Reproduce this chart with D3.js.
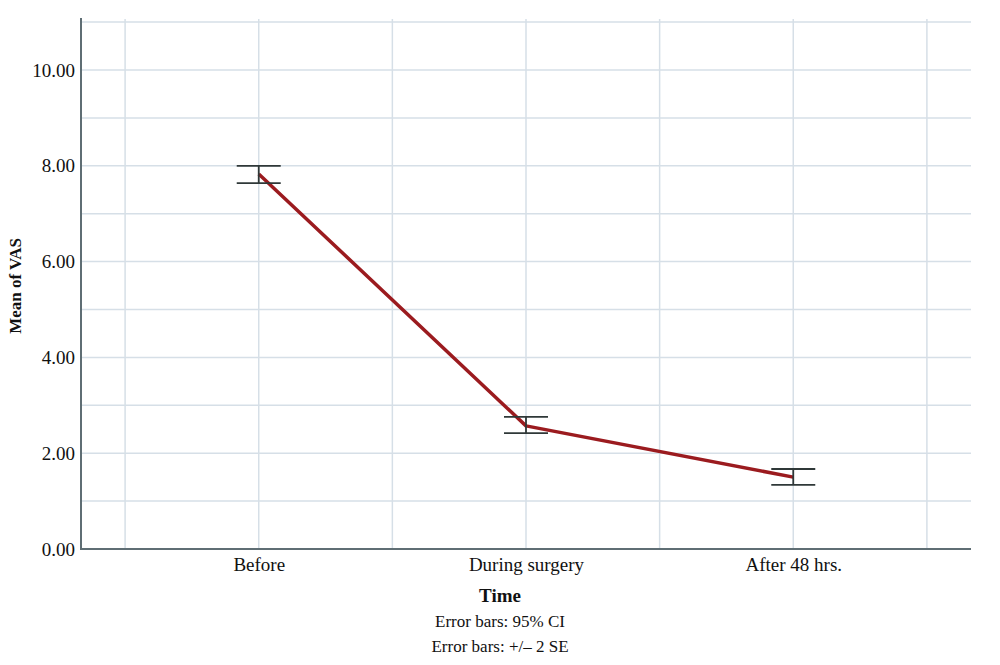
<!DOCTYPE html>
<html><head><meta charset="utf-8">
<script src="https://cdn.jsdelivr.net/npm/d3@7/dist/d3.min.js"></script>
<style>body{margin:0;background:#fff}svg{display:block}text{font-family:"Liberation Serif","Times New Roman",serif;fill:#111}</style>
</head><body><svg id="c" width="1000" height="665"></svg>
<script>
const categories = ["Before", "During surgery", "After 48 hrs."];
const means = [7.83, 2.57, 1.50];
const ciLower = [7.64, 2.42, 1.34];
const ciUpper = [8.00, 2.76, 1.67];
const yTicks = [0, 2, 4, 6, 8, 10];
const yGrid = [1, 2, 3, 4, 5, 6, 7, 8, 9, 10, 11];
const xGrid = [-0.5, 0, 0.5, 1, 1.5, 2, 2.5];
const notes = ["Error bars: 95% CI", "Error bars: +/– 2 SE"];

const svg = d3.select("#c");
const L = 81, R = 971, B = 549;
const x = d3.scaleLinear().domain([-0.665, 2.665]).range([L, R]);
const y = d3.scaleLinear().domain([0, 11]).range([B, B - 11 * 47.9]);

const grid = svg.append("g");
grid.selectAll(".h").data(yGrid).join("line")
  .attr("x1", L).attr("x2", R).attr("y1", d => y(d)).attr("y2", d => y(d))
  .attr("stroke", "#d6dfe7").attr("stroke-width", 1.5);
grid.selectAll(".v").data(xGrid).join("line")
  .attr("x1", d => x(d)).attr("x2", d => x(d)).attr("y1", y(11) - 3).attr("y2", B)
  .attr("stroke", "#d6dfe7").attr("stroke-width", 1.5);

// axes
const yAxis = d3.axisLeft(y).tickValues(yTicks).tickFormat(d3.format(".2f")).tickSize(0).tickPadding(6);
const gy = svg.append("g").attr("transform", `translate(${L},0)`).call(yAxis);
gy.select(".domain").remove();
gy.selectAll("text").attr("font-size", 19).attr("font-family", "Liberation Serif").attr("fill", "#111");
svg.append("line").attr("x1", L).attr("x2", L).attr("y1", y(11) - 4).attr("y2", B + 1)
  .attr("stroke", "#5f6e74").attr("stroke-width", 2);

const xAxis = d3.axisBottom(x).tickValues(categories.map((_, i) => i)).tickFormat(i => categories[i]).tickSize(0).tickPadding(9);
const gx = svg.append("g").attr("transform", `translate(0,${B})`).call(xAxis);
gx.select(".domain").remove();
gx.selectAll("text").attr("font-size", 19).attr("font-family", "Liberation Serif").attr("fill", "#111");
svg.append("line").attr("x1", L).attr("x2", R).attr("y1", B).attr("y2", B)
  .attr("stroke", "#5f6e74").attr("stroke-width", 2);

// line
const line = d3.line().x((d, i) => x(i)).y(d => y(d));
svg.append("path").datum(means).attr("d", line).attr("fill", "none")
  .attr("stroke", "#9b1b1f").attr("stroke-width", 3.5).attr("stroke-linejoin", "round");

// error bars
const eb = svg.append("g").attr("stroke", "#2f3838").attr("stroke-width", 1.8);
categories.forEach((c, i) => {
  eb.append("line").attr("x1", x(i)).attr("x2", x(i)).attr("y1", y(ciLower[i])).attr("y2", y(ciUpper[i]));
  [ciLower[i], ciUpper[i]].forEach(v => {
    eb.append("line").attr("x1", x(i) - 22).attr("x2", x(i) + 22).attr("y1", y(v)).attr("y2", y(v));
  });
});

// titles
svg.append("text").attr("transform", "translate(21,286) rotate(-90)").attr("text-anchor", "middle")
  .attr("font-size", 17).attr("font-weight", "bold").text("Mean of VAS");
svg.append("text").attr("x", 500).attr("y", 602).attr("text-anchor", "middle")
  .attr("font-size", 19).attr("font-weight", "bold").text("Time");
svg.selectAll(".note").data(notes).join("text").attr("x", 500).attr("y", (d, i) => 627 + 25 * i)
  .attr("text-anchor", "middle").attr("font-size", 17).text(d => d);
</script></body></html>
